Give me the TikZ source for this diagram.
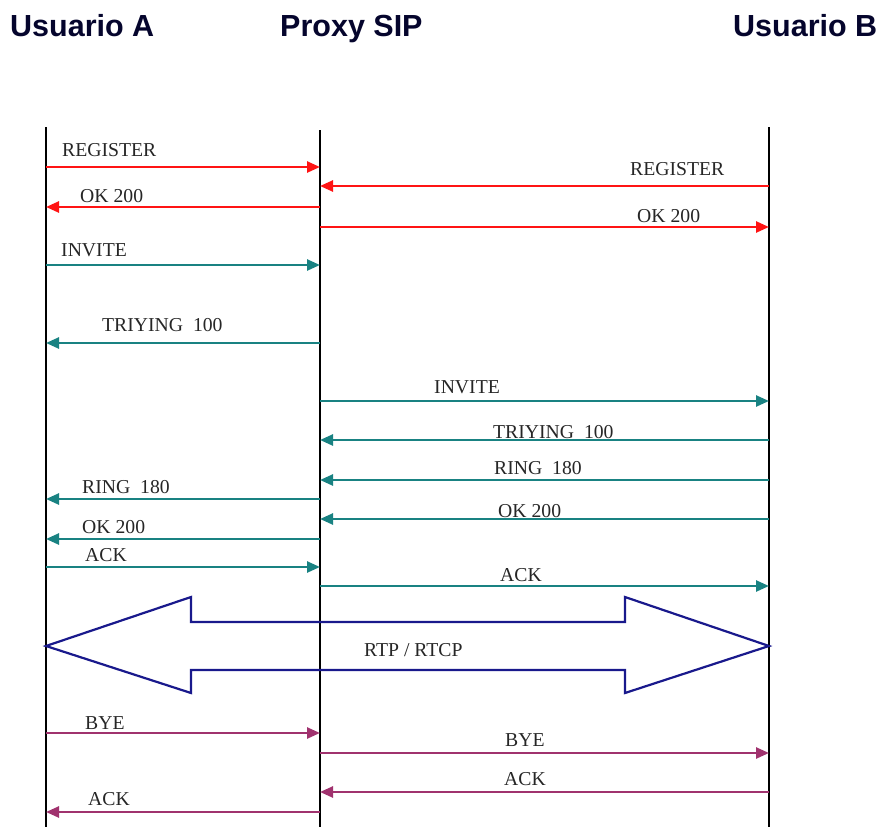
\documentclass[tikz,border=0pt]{standalone}
\usepackage{fontspec}
\setmainfont{Liberation Serif}
\newfontfamily\headfont{Liberation Sans}
\usetikzlibrary{arrows.meta}
\definecolor{msgred}{RGB}{255,20,20}
\definecolor{msgteal}{RGB}{25,130,130}
\definecolor{msgpurple}{RGB}{160,50,110}
\definecolor{rtpblue}{RGB}{25,25,140}
\definecolor{headcol}{RGB}{5,5,45}
\tikzset{
  lifeline/.style={line width=1.7pt,black},
  msg/.style={line width=2.5pt,-{Triangle[length=13pt,width=11pt]}},
  lbl/.style={anchor=base west,inner sep=0pt,font=\fontsize{19.7}{20}\selectfont,text=black!85},
  hdr/.style={anchor=base west,inner sep=0pt,font=\headfont\bfseries\fontsize{30.5}{31}\selectfont,text=headcol},
  rtp/.style={line width=2.2pt,draw=rtpblue,line join=miter}
}
\begin{document}
\begin{tikzpicture}[x=1pt,y=-1pt]
\useasboundingbox (0,0) rectangle (884,827);
% headers
\node[hdr] (hA) at (10,36) {Usuario A};
\node[hdr] (hP) at (280,36) {Proxy SIP};
\node[hdr] (hB) at (733,36) {Usuario B};
% lifelines
\coordinate (At) at (46,127); \coordinate (Ab) at (46,827);
\coordinate (Pt) at (320,130); \coordinate (Pb) at (320,827);
\coordinate (Bt) at (769,127); \coordinate (Bb) at (769,827);
\draw[lifeline] (At) -- (Ab);
\draw[lifeline] (Pt) -- (Pb);
\draw[lifeline] (Bt) -- (Bb);
% message end points
\foreach \n/\y in {1/167,2/186,3/207,4/227,5/265,6/343,7/401,8/440,9/480,10/499,11/519,12/539,13/567,14/586,15/733,16/753,17/792,18/812}{
  \coordinate (a\n) at (46,\y);
  \coordinate (p\n) at (320,\y);
  \coordinate (b\n) at (769,\y);
}
% red
\draw[msg,msgred] (a1) -- (p1);
\draw[msg,msgred] (b2) -- (p2);
\draw[msg,msgred] (p3) -- (a3);
\draw[msg,msgred] (p4) -- (b4);
\node[lbl] (l1) at (62,156) {REGISTER};
\node[lbl] (l2) at (630,175) {REGISTER};
\node[lbl] (l3) at (80,202) {OK 200};
\node[lbl] (l4) at (637,222) {OK 200};
% teal
\draw[msg,msgteal] (a5) -- (p5);
\draw[msg,msgteal] (p6) -- (a6);
\draw[msg,msgteal] (p7) -- (b7);
\draw[msg,msgteal] (b8) -- (p8);
\draw[msg,msgteal] (b9) -- (p9);
\draw[msg,msgteal] (p10) -- (a10);
\draw[msg,msgteal] (b11) -- (p11);
\draw[msg,msgteal] (p12) -- (a12);
\draw[msg,msgteal] (a13) -- (p13);
\draw[msg,msgteal] (p14) -- (b14);
\node[lbl] (l5) at (61,256) {INVITE};
\node[lbl] (l6) at (102,331) {TRIYING\ \ 100};
\node[lbl] (l7) at (434,393) {INVITE};
\node[lbl] (l8) at (493,438) {TRIYING\ \ 100};
\node[lbl] (l9) at (494,474) {RING\ \ 180};
\node[lbl] (l10) at (82,493) {RING\ \ 180};
\node[lbl] (l11) at (498,517) {OK 200};
\node[lbl] (l12) at (82,533) {OK 200};
\node[lbl] (l13) at (85,561) {ACK};
\node[lbl] (l14) at (500,581) {ACK};
% RTP double arrow
\draw[rtp] (46,646) -- (191,597) -- (191,622) -- (625,622) -- (625,597) -- (769,646)
  -- (625,693) -- (625,670) -- (191,670) -- (191,693) -- cycle;
\node[lbl] (lrtp) at (364,656) {RTP / RTCP};
% purple
\draw[msg,msgpurple] (a15) -- (p15);
\draw[msg,msgpurple] (p16) -- (b16);
\draw[msg,msgpurple] (b17) -- (p17);
\draw[msg,msgpurple] (p18) -- (a18);
\node[lbl] (l15) at (85,729) {BYE};
\node[lbl] (l16) at (505,746) {BYE};
\node[lbl] (l17) at (504,785) {ACK};
\node[lbl] (l18) at (88,805) {ACK};
\end{tikzpicture}
\end{document}
